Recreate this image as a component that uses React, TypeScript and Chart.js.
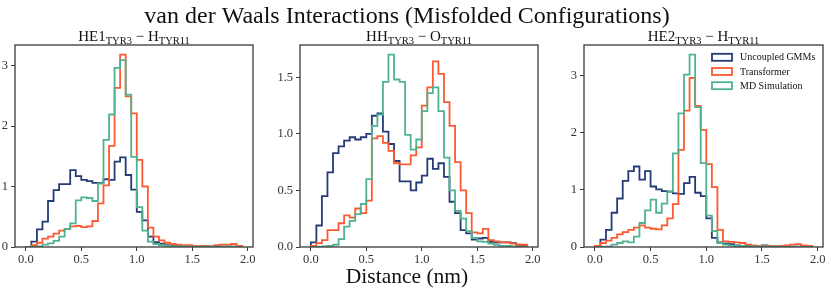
import React, { useEffect, useRef } from 'react';
import { Chart, registerables } from 'chart.js';
Chart.register(...registerables);

// ---------- data ----------
const binEdges = [
  0.0, 0.05, 0.1, 0.15, 0.2, 0.25, 0.3, 0.35, 0.4, 0.45,
  0.5, 0.55, 0.6, 0.65, 0.7, 0.75, 0.8, 0.85, 0.9, 0.95,
  1.0, 1.05, 1.1, 1.15, 1.2, 1.25, 1.3, 1.35, 1.4, 1.45,
  1.5, 1.55, 1.6, 1.65, 1.7, 1.75, 1.8, 1.85, 1.9, 1.95,
];

const seriesNames = ['Uncoupled GMMs', 'Transformer', 'MD Simulation'];

// Panel 1: HE1(TYR3) - H(TYR11)
const gmmHE1 = [0.0, 0.09, 0.29, 0.42, 0.76, 0.94, 1.04, 1.04, 1.27, 1.17, 1.11, 1.09, 1.06, 1.06, 1.12, 1.11, 1.41, 1.48, 1.19, 0.95, 0.58, 0.44, 0.17, 0.08, 0.055, 0.03, 0.02, 0.015, 0.01, 0.01, 0.01, 0.005, 0.005, 0.005, 0.01, 0.005, 0.005, 0.005, 0.0];
const transHE1 = [0.0, 0.03, 0.07, 0.14, 0.17, 0.22, 0.27, 0.30, 0.34, 0.35, 0.33, 0.34, 0.43, 0.72, 1.02, 1.67, 2.63, 3.18, 2.49, 2.21, 1.44, 1.0, 0.32, 0.17, 0.11, 0.07, 0.05, 0.04, 0.03, 0.03, 0.02, 0.02, 0.02, 0.01, 0.03, 0.04, 0.04, 0.05, 0.02];
const mdHE1 = [0.0, 0.0, 0.01, 0.04, 0.06, 0.10, 0.17, 0.30, 0.39, 0.77, 0.82, 0.81, 0.76, 1.05, 1.77, 2.19, 2.96, 3.09, 2.52, 1.49, 0.66, 0.27, 0.09, 0.05, 0.03, 0.02, 0.015, 0.01, 0.01, 0.005, 0.005, 0.005, 0.005, 0.005, 0.005, 0.005, 0.005, 0.0, 0.0];

// Panel 2: HH(TYR3) - O(TYR11)
const gmmHH = [0.04, 0.19, 0.45, 0.66, 0.83, 0.89, 0.94, 0.97, 0.95, 0.97, 1.0, 1.16, 1.18, 1.02, 0.91, 0.76, 0.58, 0.58, 0.50, 0.57, 0.63, 0.78, 0.69, 0.74, 0.62, 0.40, 0.30, 0.15, 0.12, 0.065, 0.075, 0.08, 0.045, 0.04, 0.04, 0.04, 0.035, 0.02, 0.01];
const transHH = [0.01, 0.035, 0.06, 0.15, 0.15, 0.21, 0.28, 0.26, 0.34, 0.30, 0.41, 0.96, 0.98, 0.92, 0.85, 0.74, 0.73, 0.73, 0.81, 0.88, 1.25, 1.41, 1.64, 1.53, 1.28, 1.07, 0.75, 0.50, 0.30, 0.13, 0.12, 0.16, 0.06, 0.05, 0.04, 0.04, 0.03, 0.02, 0.02];
const mdHH = [0.0, 0.0, 0.005, 0.01, 0.02, 0.07, 0.18, 0.23, 0.29, 0.38, 0.60, 1.07, 1.17, 1.46, 1.70, 1.48, 1.46, 0.99, 0.86, 0.95, 1.20, 1.36, 1.41, 1.20, 0.79, 0.50, 0.32, 0.25, 0.14, 0.08, 0.05, 0.045, 0.03, 0.02, 0.01, 0.01, 0.005, 0.0, 0.0];

// Panel 3: HE2(TYR3) - H(TYR11)
const gmmHE2 = [0.02, 0.13, 0.30, 0.60, 0.85, 1.16, 1.33, 1.41, 1.18, 1.33, 1.06, 1.01, 0.98, 0.97, 0.94, 0.93, 1.12, 1.23, 0.95, 0.89, 0.50, 0.16, 0.08, 0.06, 0.05, 0.03, 0.02, 0.02, 0.015, 0.02, 0.03, 0.02, 0.01, 0.01, 0.005, 0.005, 0.005, 0.005, 0.0];
const transHE2 = [0.02, 0.07, 0.11, 0.16, 0.22, 0.26, 0.30, 0.34, 0.38, 0.34, 0.32, 0.31, 0.38, 0.50, 0.75, 1.70, 2.39, 2.96, 2.47, 2.05, 1.45, 1.05, 0.30, 0.10, 0.09, 0.08, 0.07, 0.04, 0.03, 0.02, 0.02, 0.02, 0.01, 0.02, 0.03, 0.04, 0.05, 0.03, 0.02];
const mdHE2 = [0.0, 0.0, 0.01, 0.04, 0.07, 0.10, 0.08, 0.18, 0.42, 0.64, 0.83, 0.60, 0.76, 0.97, 1.64, 2.34, 3.02, 3.37, 2.45, 1.47, 0.55, 0.28, 0.07, 0.04, 0.03, 0.02, 0.02, 0.01, 0.01, 0.01, 0.01, 0.005, 0.005, 0.0, 0.0, 0.0, 0.0, 0.0, 0.0];

const xTicks = [0.0, 0.5, 1.0, 1.5, 2.0];
const yTicksHE1 = [0, 1, 2, 3];
const yTicksHH = [0.0, 0.5, 1.0, 1.5];
const yTicksHE2 = [0, 1, 2, 3];

const figTitle = 'van der Waals Interactions (Misfolded Configurations)';
const xLabel = 'Distance (nm)';

// ---------- styling ----------
const W = 831;
const H = 293;
const FONT = '"Liberation Serif", "Times New Roman", serif';
const COLORS = ['#243b76', '#fb5a32', '#4fb391'];
const FRAME = '#3a3a3a';
const TICK_TEXT = '#333333';

type Seg = { t: string; sub?: boolean };

interface PanelSpec {
  series: number[][];
  yTicks: number[];
  decimals: number;
  titleSegs: Seg[];
  area: { l: number; r: number; t: number; b: number };
  yAxisW: number;
  legend?: boolean;
  figText?: boolean;
}

const panels: PanelSpec[] = [
  {
    series: [gmmHE1, transHE1, mdHE1],
    yTicks: yTicksHE1,
    decimals: 0,
    titleSegs: [{ t: 'HE1' }, { t: 'TYR3', sub: true }, { t: ' \u2212 H' }, { t: 'TYR11', sub: true }],
    area: { l: 15, r: 253, t: 45, b: 247 },
    yAxisW: 15,
  },
  {
    series: [gmmHH, transHH, mdHH],
    yTicks: yTicksHH,
    decimals: 1,
    titleSegs: [{ t: 'HH' }, { t: 'TYR3', sub: true }, { t: ' \u2212 O' }, { t: 'TYR11', sub: true }],
    area: { l: 300, r: 538, t: 45, b: 247 },
    yAxisW: 30,
    figText: true,
  },
  {
    series: [gmmHE2, transHE2, mdHE2],
    yTicks: yTicksHE2,
    decimals: 0,
    titleSegs: [{ t: 'HE2' }, { t: 'TYR3', sub: true }, { t: ' \u2212 H' }, { t: 'TYR11', sub: true }],
    area: { l: 584, r: 823, t: 45, b: 247 },
    yAxisW: 30,
    legend: true,
  },
];

function stepPoints(edges: number[], values: number[]) {
  const pts: { x: number; y: number }[] = [{ x: edges[0], y: 0 }];
  for (let i = 0; i < values.length; i++) {
    pts.push({ x: edges[i], y: values[i] });
    pts.push({ x: edges[i + 1], y: values[i] });
  }
  pts.push({ x: edges[values.length], y: 0 });
  return pts;
}

const X_AXIS_H = 22;
const TICK_FONT = 12.5;

function makeConfig(p: PanelSpec): any {
  const yMax = Math.max(...p.series.flat()) * 1.05;
  const panelPlugin = {
    id: 'panelDecor',
    afterDatasetsDraw(chart: any) {
      const ctx = chart.ctx as CanvasRenderingContext2D;
      const a = chart.chartArea;
      ctx.save();
      // frame
      ctx.strokeStyle = FRAME;
      ctx.lineWidth = 1.3;
      ctx.strokeRect(a.left, a.top, a.right - a.left, a.bottom - a.top);
      // subplot title with subscripts
      const mainSize = 15;
      const subSize = 10.5;
      let total = 0;
      const widths = p.titleSegs.map((s) => {
        ctx.font = `${s.sub ? subSize : mainSize}px ${FONT}`;
        const w = ctx.measureText(s.t).width;
        total += w;
        return w;
      });
      let x = (a.left + a.right) / 2 - total / 2;
      const base = a.top - 4;
      ctx.fillStyle = '#111';
      ctx.textBaseline = 'alphabetic';
      ctx.textAlign = 'left';
      p.titleSegs.forEach((s, i) => {
        ctx.font = `${s.sub ? subSize : mainSize}px ${FONT}`;
        ctx.fillText(s.t, x, s.sub ? base + 3 : base);
        x += widths[i];
      });
      // legend
      if (p.legend) {
        const boxL = a.right - 111;
        const textL = a.right - 83;
        chart.data.datasets.forEach((ds: any, i: number) => {
          const cy = a.top + 12.3 + 14.2 * i;
          ctx.strokeStyle = ds.borderColor;
          ctx.lineWidth = 1.8;
          ctx.strokeRect(boxL, cy - 3.5, 20, 7);
          ctx.fillStyle = '#111';
          ctx.font = `10px ${FONT}`;
          ctx.textBaseline = 'middle';
          ctx.fillText(ds.label, textL, cy + 0.5);
        });
      }
      // figure texts
      if (p.figText) {
        ctx.fillStyle = '#111';
        ctx.textAlign = 'center';
        ctx.textBaseline = 'alphabetic';
        ctx.font = `24px ${FONT}`;
        ctx.fillText(figTitle, 407, 23);
        ctx.font = `21.5px ${FONT}`;
        ctx.fillText(xLabel, 407, 283);
      }
      ctx.restore();
    },
  };

  const order = [3, 2, 1];
  return {
    type: 'line',
    data: {
      datasets: p.series.map((vals, i) => ({
        label: seriesNames[i],
        data: stepPoints(binEdges, vals),
        borderColor: COLORS[i],
        backgroundColor: COLORS[i],
        borderWidth: 1.8,
        pointRadius: 0,
        fill: false,
        tension: 0,
        order: order[i],
      })),
    },
    options: {
      animation: false,
      responsive: false,
      devicePixelRatio: 1,
      events: [],
      layout: {
        padding: {
          left: p.area.l - p.yAxisW,
          right: W - p.area.r,
          top: p.area.t,
          bottom: H - p.area.b - X_AXIS_H,
        },
      },
      plugins: {
        legend: { display: false },
        title: { display: false },
        tooltip: { enabled: false },
      },
      scales: {
        x: {
          type: 'linear',
          min: -0.0975,
          max: 2.0475,
          afterBuildTicks: (s: any) => {
            s.ticks = xTicks.map((v) => ({ value: v }));
          },
          afterFit: (s: any) => {
            s.height = X_AXIS_H;
          },
          ticks: {
            autoSkip: false,
            maxRotation: 0,
            padding: 1,
            color: TICK_TEXT,
            font: { family: FONT, size: TICK_FONT },
            callback: (v: any) => Number(v).toFixed(1),
          },
          grid: {
            display: true,
            drawOnChartArea: false,
            drawTicks: true,
            tickLength: 4,
            color: FRAME,
            lineWidth: 1,
          },
          border: { display: false },
        },
        y: {
          type: 'linear',
          min: 0,
          max: yMax,
          afterBuildTicks: (s: any) => {
            s.ticks = p.yTicks.map((v) => ({ value: v }));
          },
          afterFit: (s: any) => {
            s.width = p.yAxisW;
          },
          ticks: {
            autoSkip: false,
            padding: 3,
            color: TICK_TEXT,
            font: { family: FONT, size: TICK_FONT },
            callback: (v: any) => Number(v).toFixed(p.decimals),
          },
          grid: {
            display: true,
            drawOnChartArea: false,
            drawTicks: true,
            tickLength: 4,
            color: FRAME,
            lineWidth: 1,
          },
          border: { display: false },
        },
      },
    },
    plugins: [panelPlugin],
  };
}

function PanelCanvas({ spec }: { spec: PanelSpec }) {
  const ref = useRef<HTMLCanvasElement | null>(null);
  useEffect(() => {
    if (!ref.current) return;
    const chart = new Chart(ref.current, makeConfig(spec));
    return () => chart.destroy();
  }, [spec]);
  return (
    <canvas
      ref={ref}
      width={W}
      height={H}
      style={{ position: 'absolute', left: 0, top: 0, width: W, height: H }}
    />
  );
}

export default function App() {
  return (
    <div
      style={{
        position: 'fixed',
        left: 0,
        top: 0,
        width: W,
        height: H,
        background: '#ffffff',
        overflow: 'hidden',
      }}
    >
      {panels.map((p, i) => (
        <PanelCanvas key={i} spec={p} />
      ))}
    </div>
  );
}
